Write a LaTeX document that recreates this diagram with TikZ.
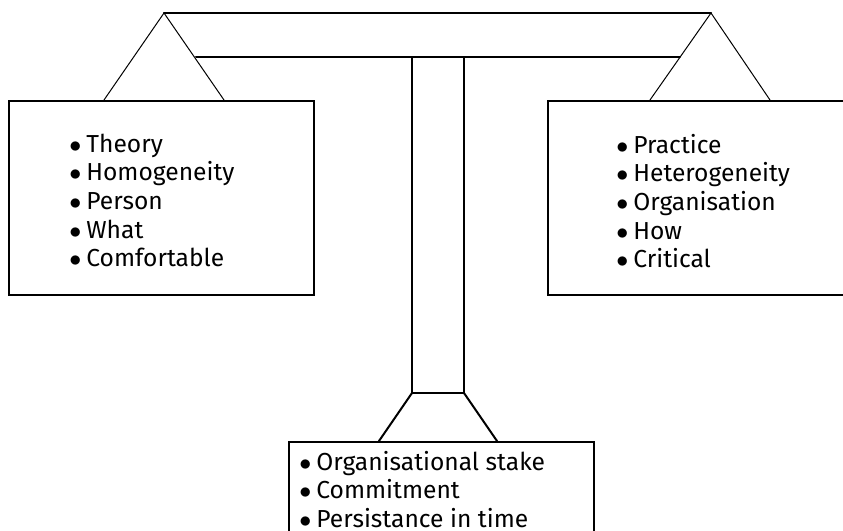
\documentclass[tikz,border=0pt]{standalone}
\usepackage{fontspec}
\setmainfont{Fira Sans}

\newcommand{\blt}{$\bullet$\kern2.5pt}

\tikzset{
  bar/.style={line width=1pt, line cap=round, line join=round},
  brace/.style={line width=0.5pt},
  panel/.style={draw, line width=1pt, rectangle, inner sep=0pt},
  entry/.style={font=\fontsize{12.3}{14}\selectfont, inner sep=0pt, anchor=base west}
}

\begin{document}
\begin{tikzpicture}[x=0.5pt,y=-0.5pt]
  \useasboundingbox (0,0) rectangle (843,531);
  \clip (0,0) rectangle (843,531);
  % the two pans and the foot
  \node[panel, minimum width=152.5pt, minimum height=97pt] (theory) at (161.5,198) {};
  \node[panel, minimum width=156pt, minimum height=97pt] (practice) at (704,198) {};
  \node[panel, minimum width=152.5pt, minimum height=60pt] (stake) at (441.5,502) {};
  % beam and column
  \coordinate (apexL) at (164,13);
  \coordinate (apexR) at (711,13);
  \draw[bar] (apexL) -- (apexR);
  \draw[bar] (196,57) -- (680,57);
  \draw[bar] (412,57) -- (412,393) -- (464,393) -- (464,57);
  % hangers
  \draw[brace] ([xshift=48pt]theory.north west) -- (apexL) -- ([xshift=108pt]theory.north west);
  \draw[brace] ([xshift=51.5pt]practice.north west) -- (apexR) -- ([xshift=111.5pt]practice.north west);
  \draw[bar] ([xshift=45.5pt]stake.north west) -- (412,393);
  \draw[bar] ([xshift=104.5pt]stake.north west) -- (464,393);
  % lists
  \foreach \t [count=\i] in {Theory,Homogeneity,Person,What,Comfortable}
    \node[entry] (l\i) at (69,{152+28.7*(\i-1)}) {\blt\t};
  \foreach \t [count=\i] in {Practice,Heterogeneity,Organisation,How,Critical}
    \node[entry] (r\i) at (616,{153+28.7*(\i-1)}) {\blt\t};
  \foreach \t [count=\i] in {Organisational stake,Commitment,Persistance in time}
    \node[entry] (b\i) at (299,{470+28.5*(\i-1)}) {\blt\t};
\end{tikzpicture}
\end{document}
